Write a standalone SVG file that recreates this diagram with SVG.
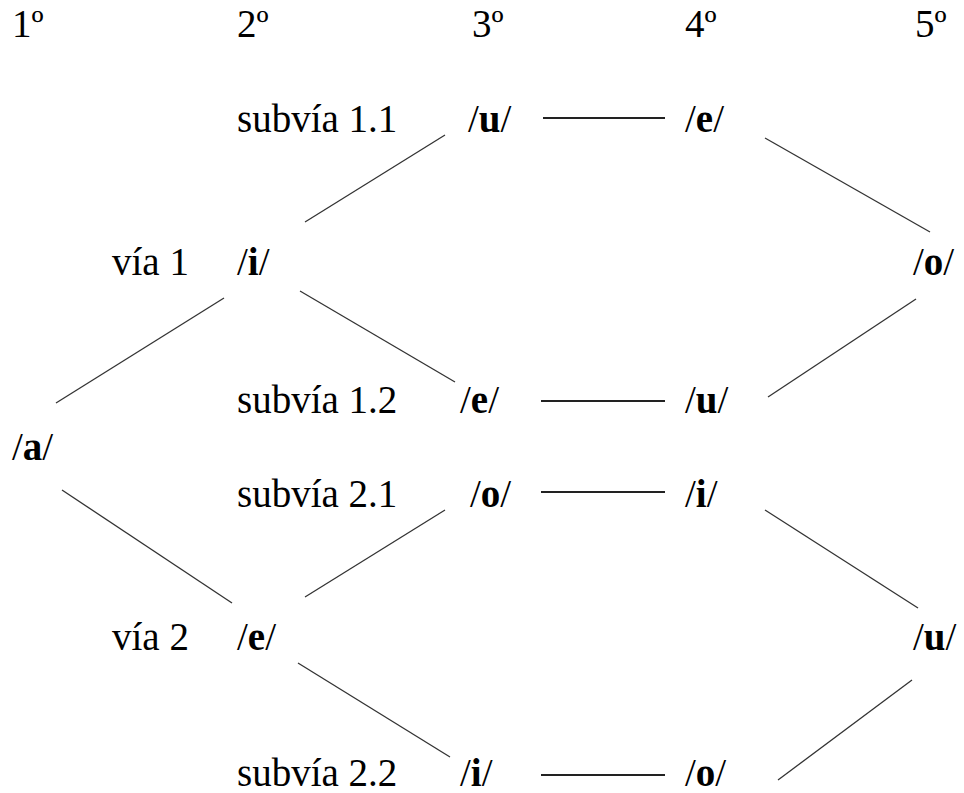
<svg xmlns="http://www.w3.org/2000/svg" width="964" height="793" viewBox="0 0 964 793">
<style>
text{font-family:"Liberation Serif","Times New Roman",serif;font-size:39px;fill:#000}
.b{font-weight:bold}
.d{stroke:#333;stroke-width:1.3;fill:none}
.h{stroke:#222;stroke-width:2;fill:none}
</style>
<rect width="964" height="793" fill="#fff"/>
<g id="headers">
<text x="12" y="37">1º</text>
<text x="237" y="37">2º</text>
<text x="472" y="37">3º</text>
<text x="685" y="37">4º</text>
<text x="915" y="37">5º</text>
</g>
<g id="labels">
<text x="237" y="132">subvía 1.1</text>
<text x="112" y="275">vía 1</text>
<text x="237" y="413">subvía 1.2</text>
<text x="237" y="507">subvía 2.1</text>
<text x="112" y="650">vía 2</text>
<text x="237" y="786">subvía 2.2</text>
</g>
<g id="n_a"><text x="12" y="460">/<tspan class="b">a</tspan>/</text></g>
<g id="n_v1_i"><text x="237" y="275">/<tspan class="b">i</tspan>/</text></g>
<g id="n_s11_u"><text x="468" y="132">/<tspan class="b">u</tspan>/</text></g>
<g id="n_s11_e"><text x="685" y="132">/<tspan class="b">e</tspan>/</text></g>
<g id="n_o5"><text x="913" y="275">/<tspan class="b">o</tspan>/</text></g>
<g id="n_s12_e"><text x="460" y="413">/<tspan class="b">e</tspan>/</text></g>
<g id="n_s12_u"><text x="685" y="413">/<tspan class="b">u</tspan>/</text></g>
<g id="n_s21_o"><text x="470" y="507">/<tspan class="b">o</tspan>/</text></g>
<g id="n_s21_i"><text x="685" y="507">/<tspan class="b">i</tspan>/</text></g>
<g id="n_v2_e"><text x="237" y="650">/<tspan class="b">e</tspan>/</text></g>
<g id="n_u5"><text x="913" y="650">/<tspan class="b">u</tspan>/</text></g>
<g id="n_s22_i"><text x="460" y="786">/<tspan class="b">i</tspan>/</text></g>
<g id="n_s22_o"><text x="685" y="786">/<tspan class="b">o</tspan>/</text></g>
<g id="connectors">
<line class="h" x1="543" y1="118" x2="665" y2="118"/>
<line class="h" x1="541" y1="401" x2="665" y2="401"/>
<line class="h" x1="541" y1="492" x2="665" y2="492"/>
<line class="h" x1="541" y1="775" x2="665" y2="775"/>
<line class="d" x1="305" y1="222" x2="445" y2="135"/>
<line class="d" x1="56" y1="403" x2="224" y2="298"/>
<line class="d" x1="300" y1="291" x2="455" y2="382"/>
<line class="d" x1="765" y1="138" x2="930" y2="232"/>
<line class="d" x1="916" y1="299" x2="768" y2="397"/>
<line class="d" x1="62" y1="490" x2="232" y2="603"/>
<line class="d" x1="305" y1="597" x2="445" y2="510"/>
<line class="d" x1="298" y1="663" x2="450" y2="757"/>
<line class="d" x1="765" y1="510" x2="918" y2="608"/>
<line class="d" x1="912" y1="680" x2="778" y2="780"/>
</g>
</svg>
